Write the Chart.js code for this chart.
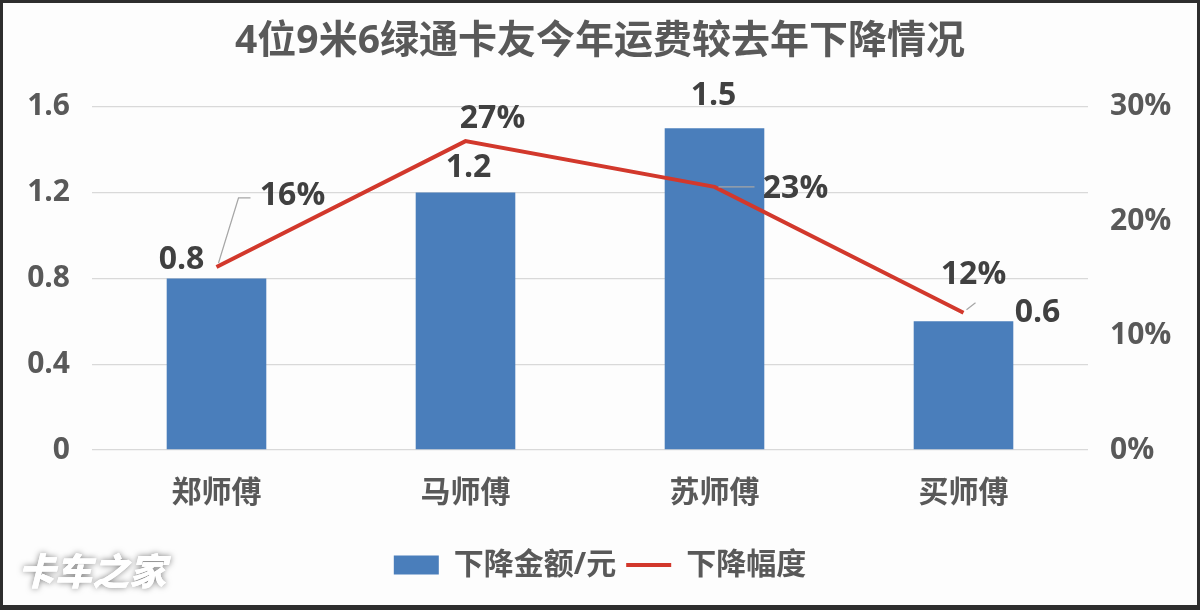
<!DOCTYPE html>
<html>
<head>
<meta charset="utf-8">
<script src="https://cdn.jsdelivr.net/npm/chart.js"></script>
<style>
  html, body { margin: 0; padding: 0; background: #2e2e2e; }
  #wrap { position: absolute; left: 3px; top: 3px; width: 1194px; height: 602px; background: #fdfdfd; }
</style>
</head>
<body>
<div id="wrap"><canvas id="chart"></canvas></div>
<script>
const categories = ["郑师傅", "马师傅", "苏师傅", "买师傅"];
const amountValues = [0.8, 1.2, 1.5, 0.6];   // 下降金额/元
const rateValues = [16, 27, 23, 12];         // 下降幅度 (%)
const leftTicks = [0, 0.4, 0.8, 1.2, 1.6];
const rightTicks = [0, 10, 20, 30];

const FONT = "'Open Sans', 'Noto Sans CJK SC', sans-serif";
const labelColor = "#595959";

// label placement relative to each bar top / line point
const barLabelOffsets = [[-35, -19], [3, -25], [-1, -32], [74, -8]];
const lineLabelOffsets = [[76, -71], [27, -22], [81, 2], [10, -38]];
const leaderLines = [
    [[2, -4], [22, -69], [34, -69]],
    null,
    [[4, 0], [40, 0]],
    [[3, -3], [12, -10]]
];

const dataLabels = {
    id: "dataLabels",
    afterDatasetsDraw(chart) {
        const ctx = chart.ctx;
        ctx.save();
        const barMeta = chart.getDatasetMeta(1);
        const lineMeta = chart.getDatasetMeta(0);

        // leader lines
        ctx.strokeStyle = "#a6a6a6";
        ctx.lineWidth = 1.2;
        lineMeta.data.forEach((pt, i) => {
            const path = leaderLines[i];
            if (!path) return;
            ctx.beginPath();
            path.forEach(([dx, dy], k) => {
                if (k === 0) ctx.moveTo(pt.x + dx, pt.y + dy);
                else ctx.lineTo(pt.x + dx, pt.y + dy);
            });
            ctx.stroke();
        });

        ctx.font = "bold 32px " + FONT;
        ctx.fillStyle = "#404040";
        ctx.textAlign = "center";
        ctx.textBaseline = "middle";
        barMeta.data.forEach((bar, i) => {
            const [dx, dy] = barLabelOffsets[i];
            ctx.fillText(String(amountValues[i]), bar.x + dx, bar.y + dy);
        });
        lineMeta.data.forEach((pt, i) => {
            const [dx, dy] = lineLabelOffsets[i];
            ctx.fillText(rateValues[i] + "%", pt.x + dx, pt.y + dy);
        });
        ctx.restore();
    },
    afterDraw(chart) {
        // watermark
        const ctx = chart.ctx;
        ctx.save();
        ctx.font = "italic 900 37px 'Noto Sans CJK SC', sans-serif";
        ctx.textBaseline = "middle";
        ctx.shadowColor = "rgba(0,0,0,0.5)";
        ctx.shadowBlur = 6;
        ctx.fillStyle = "#ffffff";
        ctx.fillText("卡车之家", 15, 568);
        ctx.shadowBlur = 0;
        ctx.fillText("卡车之家", 15, 568);
        ctx.restore();
    }
};

new Chart(document.getElementById("chart"), {
    type: "bar",
    data: {
        labels: categories,
        datasets: [
            {
                type: "line",
                label: "下降幅度",
                data: rateValues,
                yAxisID: "y1",
                borderColor: "#d2382c",
                backgroundColor: "#d2382c",
                borderWidth: 4,
                pointRadius: 0,
                tension: 0,
                order: 0
            },
            {
                type: "bar",
                label: "下降金额/元",
                data: amountValues,
                yAxisID: "y",
                backgroundColor: "#4a7ebb",
                barPercentage: 0.4,
                categoryPercentage: 1,
                order: 1
            }
        ]
    },
    options: {
        responsive: true,
        maintainAspectRatio: false,
        animation: false,
        layout: { padding: { top: 0, bottom: 15, left: 0, right: 0 } },
        plugins: {
            title: {
                display: true,
                text: "4位9米6绿通卡友今年运费较去年下降情况",
                color: labelColor,
                font: { family: FONT, size: 39, weight: "bold" },
                padding: { top: 15, bottom: 42 }
            },
            legend: {
                position: "bottom",
                reverse: true,
                labels: {
                    usePointStyle: true,
                    pointStyleWidth: 45,
                    boxHeight: 19,
                    padding: 10,
                    color: labelColor,
                    font: { family: FONT, size: 30, weight: "bold" },
                    generateLabels(chart) {
                        const items = Chart.defaults.plugins.legend.labels.generateLabels(chart);
                        items.forEach(it => {
                            const ds = chart.data.datasets[it.datasetIndex];
                            it.pointStyle = ds.type === "line" ? "line" : "rect";
                        });
                        return items;
                    }
                }
            },
            tooltip: { enabled: false }
        },
        scales: {
            x: {
                grid: { display: false },
                border: { display: false },
                ticks: {
                    color: labelColor,
                    padding: 17,
                    font: { family: FONT, size: 30, weight: "bold" }
                },
                afterFit(scale) { scale.height = 90; }
            },
            y: {
                position: "left",
                min: 0,
                max: 1.6,
                afterBuildTicks(scale) { scale.ticks = leftTicks.map(v => ({ value: v })); },
                grid: { color: "#d9d9d9", lineWidth: 1.3, drawTicks: false },
                border: { display: false },
                ticks: {
                    color: labelColor,
                    padding: 22,
                    font: { family: FONT, size: 30, weight: "bold" }
                },
                afterFit(scale) { scale.width = 89; }
            },
            y1: {
                position: "right",
                min: 0,
                max: 30,
                afterBuildTicks(scale) { scale.ticks = rightTicks.map(v => ({ value: v })); },
                grid: { display: false, drawTicks: false },
                border: { display: false },
                ticks: {
                    color: labelColor,
                    padding: 22,
                    font: { family: FONT, size: 30, weight: "bold" },
                    callback: v => v + "%"
                },
                afterFit(scale) { scale.width = 109; }
            }
        }
    },
    plugins: [dataLabels]
});
</script>
</body>
</html>
